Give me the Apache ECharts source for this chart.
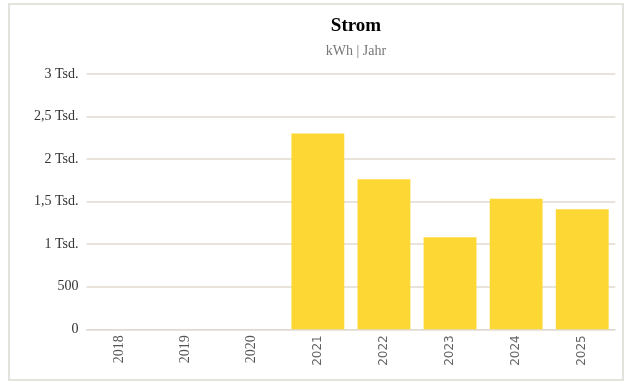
<!DOCTYPE html>
<html>
<head>
<meta charset="utf-8">
<script src="https://cdn.jsdelivr.net/npm/echarts@6/dist/echarts.min.js"></script>
<style>
html,body{margin:0;padding:0;background:#fff;}
#c{width:625px;height:381px;}
</style>
</head>
<body>
<div id="c"></div>
<script>
const categories = ['2018','2019','2020','2021','2022','2023','2024','2025'];
const values = [0, 0, 0, 2300, 1763, 1081, 1535, 1410];
const titleText = 'Strom';
const subtitleText = 'kWh | Jahr';
const emptyYears = ['2018','2019','2020'];

const chart = echarts.init(document.getElementById('c'));
chart.setOption({
  animation: false,
  backgroundColor: '#fff',
  graphic: [{
    type: 'rect',
    shape: { x: 9, y: 4, width: 614, height: 376 },
    style: { fill: 'none', stroke: '#e4e2dd', lineWidth: 2 },
    silent: true
  }],
  title: {
    text: titleText,
    subtext: subtitleText,
    left: 351,
    textAlign: 'center',
    top: 12,
    itemGap: 8,
    textStyle: { fontFamily: 'Liberation Serif', fontWeight: 'bold', fontSize: 19, color: '#000' },
    subtextStyle: { fontFamily: 'Liberation Serif', fontSize: 14, color: '#777' }
  },
  grid: { left: 86.5, right: 9.7, top: 74, bottom: 51.7, containLabel: false },
  xAxis: {
    type: 'category',
    data: categories,
    axisLine: { show: true, lineStyle: { color: '#e0dbd0', width: 1 } },
    axisTick: { show: false },
    axisLabel: {
      rotate: 90,
      margin: 6,
      fontSize: 12,
      formatter: function (v) {
        return emptyYears.indexOf(v) >= 0 ? '{s|' + v + '}' : '{n|' + v + '}';
      },
      rich: {
        s: { fontFamily: 'Liberation Serif', fontSize: 14, color: '#555' },
        n: { fontFamily: 'DejaVu Sans', fontSize: 12, color: '#666' }
      }
    }
  },
  yAxis: {
    type: 'value',
    min: 0,
    max: 3000,
    interval: 500,
    axisLine: { show: false },
    axisTick: { show: false },
    splitLine: { lineStyle: { color: '#e0dbd0', width: 1.5 } },
    axisLabel: {
      margin: 8,
      fontFamily: 'Liberation Serif',
      fontSize: 14,
      color: '#333',
      formatter: function (v) {
        if (v < 1000) return String(v);
        return String(v / 1000).replace('.', ',') + ' Tsd.';
      }
    }
  },
  series: [{
    type: 'bar',
    data: values,
    barCategoryGap: '20%',
    itemStyle: { color: '#fdd835' }
  }]
});
</script>
</body>
</html>
